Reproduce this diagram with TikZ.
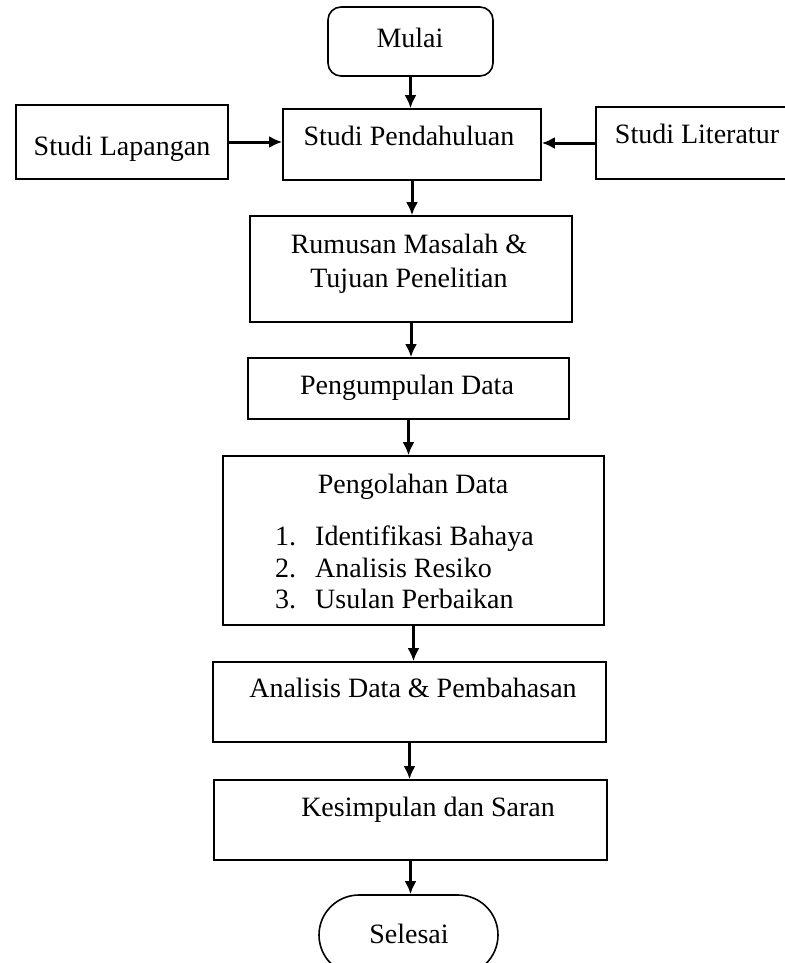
\documentclass[tikz,border=0pt]{standalone}
\usepackage{fontspec}
\setmainfont{Liberation Serif}
\usetikzlibrary{arrows.meta,shapes.misc}

\begin{document}
\begin{tikzpicture}[x=1pt,y=-1pt,
  box/.style={draw,line width=1.6pt,inner sep=0pt},
  lbl/.style={anchor=base,inner sep=0pt,font=\fontsize{28}{34}\selectfont},
  arr/.style={line width=3pt,-{Latex[length=13pt,width=12pt]}}]
  \useasboundingbox (0,0) rectangle (784,963);
  % boxes
  \node[box,rounded corners=13pt,minimum width=165pt,minimum height=69pt] (mulai) at (410.5,41.5) {};
  \node[box,minimum width=212pt,minimum height=74pt] (lapangan) at (122,142) {};
  \node[box,minimum width=258pt,minimum height=71pt] (pendahuluan) at (412,144.5) {};
  \node[box,minimum width=224pt,minimum height=72pt] (literatur) at (708,143) {};
  \node[box,minimum width=322pt,minimum height=106pt] (rumusan) at (411,269) {};
  \node[box,minimum width=321pt,minimum height=61pt] (pengumpulan) at (408.5,388.5) {};
  \node[box,minimum width=381pt,minimum height=169pt] (pengolahan) at (413.5,540.5) {};
  \node[box,minimum width=393pt,minimum height=80pt] (analisis) at (409.5,702) {};
  \node[box,minimum width=393pt,minimum height=80pt] (kesimpulan) at (410.5,820) {};
  \node[box,rounded rectangle,minimum width=179pt,minimum height=80pt] (selesai) at (408.5,935) {};
  % texts
  \node[lbl] (tmulai) at (410,48) {Mulai};
  \node[lbl] (tlapangan) at (122,155) {Studi Lapangan};
  \node[lbl] (tpendahuluan) at (409,146) {Studi Pendahuluan};
  \node[lbl] (tliteratur) at (697,143) {Studi Literatur};
  \node[lbl] (trumusan) at (409,253) {Rumusan Masalah \&};
  \node[lbl] (ttujuan) at (409,287) {Tujuan Penelitian};
  \node[lbl] (tpengumpulan) at (407,394) {Pengumpulan Data};
  \node[lbl] (tpengolahan) at (413,493) {Pengolahan Data};
  \node[lbl,anchor=base west] (n1) at (275,545) {1.};
  \node[lbl,anchor=base west] (t1) at (315,545) {Identifikasi Bahaya};
  \node[lbl,anchor=base west] (n2) at (275,577) {2.};
  \node[lbl,anchor=base west] (t2) at (315,577) {Analisis Resiko};
  \node[lbl,anchor=base west] (n3) at (275,608) {3.};
  \node[lbl,anchor=base west] (t3) at (315,608) {Usulan Perbaikan};
  \node[lbl] (tanalisis) at (413,697) {Analisis Data \& Pembahasan};
  \node[lbl] (tkesimpulan) at (428,816) {Kesimpulan dan Saran};
  \node[lbl] (tselesai) at (409,943) {Selesai};
  % arrows
  \draw[arr] (mulai.south) -- (mulai.south |- pendahuluan.north);
  \draw[arr] (lapangan.east) -- (lapangan.east -| pendahuluan.west);
  \draw[arr] (literatur.west) -- (literatur.west -| pendahuluan.east);
  \draw[arr] (pendahuluan.south) -- (pendahuluan.south |- rumusan.north);
  \draw[arr] (rumusan.south) -- (rumusan.south |- pengumpulan.north);
  \draw[arr] (pengumpulan.south) -- (pengumpulan.south |- pengolahan.north);
  \draw[arr] (pengolahan.south) -- (pengolahan.south |- analisis.north);
  \draw[arr] (analisis.south) -- (analisis.south |- kesimpulan.north);
  \draw[arr] (kesimpulan.south) -- (kesimpulan.south |- selesai.north);
\end{tikzpicture}
\end{document}
